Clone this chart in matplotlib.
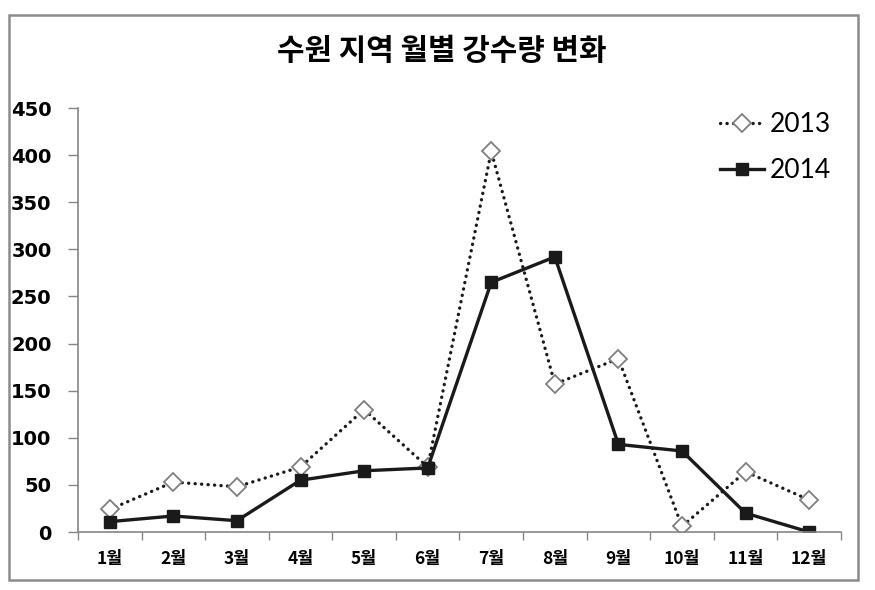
import matplotlib
matplotlib.use('Agg')
import matplotlib.pyplot as plt
from matplotlib.patches import Rectangle

plt.rcParams['font.family'] = ['Noto Sans CJK KR', 'DejaVu Sans']

# 월별 강수량 (mm)
months = ['1월', '2월', '3월', '4월', '5월', '6월', '7월', '8월', '9월', '10월', '11월', '12월']
rain_2013 = [24, 53, 48, 69, 130, 69, 404, 157, 184, 6, 64, 34]
rain_2014 = [11, 17, 12, 55, 65, 68, 265, 292, 93, 86, 20, 0]
yticks = [0, 50, 100, 150, 200, 250, 300, 350, 400, 450]

fig = plt.figure(figsize=(8.75, 5.9), dpi=100)
ax = fig.add_axes([0.0891, 0.0983, 0.872, 0.7186])

x = list(range(1, len(months) + 1))

ax.plot(x, rain_2013, color='#1a1a1a', linewidth=2.4, linestyle=(0, (0.05, 1.9)),
        dash_capstyle='round', marker='D', markersize=9.5, markerfacecolor='white',
        markeredgecolor='#7f7f7f', markeredgewidth=1.3, label='2013')
ax.plot(x, rain_2014, color='#1a1a1a', linewidth=2.4, marker='s', markersize=8.5,
        markerfacecolor='#1a1a1a', markeredgecolor='#1a1a1a', label='2014')

ax.set_xlim(0.5, len(months) + 0.5)
ax.set_ylim(0, 450)

# 눈금: 경계에 tick, 가운데에 라벨
ax.set_xticks([i + 0.5 for i in range(0, len(months) + 1)])
ax.set_xticklabels([])
ax.set_xticks(x, minor=True)
ax.set_xticklabels(months, minor=True, fontsize=12.5, fontweight='bold')
ax.tick_params(axis='x', which='major', length=6, width=1, color='#868686', direction='out')
ax.tick_params(axis='x', which='minor', length=0, pad=13)

ax.set_yticks(yticks)
ax.set_yticklabels([str(v) for v in yticks], fontsize=14, fontweight='bold',
                   family=['DejaVu Sans'])
ax.tick_params(axis='y', length=7, width=1, color='#868686', direction='out', pad=12)

for s in ['top', 'right']:
    ax.spines[s].set_visible(False)
for s in ['left', 'bottom']:
    ax.spines[s].set_color('#868686')
    ax.spines[s].set_linewidth(1.2)

leg = ax.legend(loc='upper right', bbox_to_anchor=(1.018, 1.046), frameon=False,
                prop={'family': ['Lato', 'DejaVu Sans'], 'size': 19},
                handlelength=1.7, handletextpad=0.2, labelspacing=0.8)

fig.text(0.505, 0.913, '수원 지역 월별 강수량 변화', ha='center', va='center',
         fontsize=21.5, fontweight='heavy')

# 바깥 테두리
fig.patches.append(Rectangle((9 / 875, 1 - 580 / 590), 849 / 875, 565 / 590,
                             transform=fig.transFigure, fill=False,
                             edgecolor='#8c8c8c', linewidth=1.8))

fig.savefig('out.png', dpi=100)
